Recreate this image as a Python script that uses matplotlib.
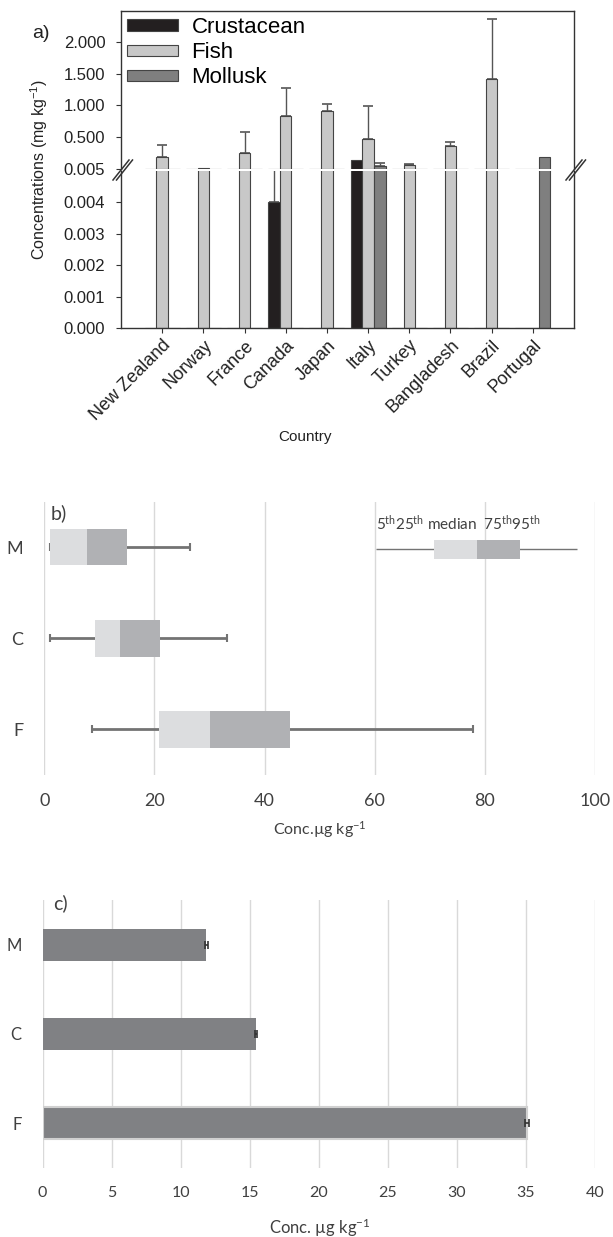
import matplotlib
matplotlib.use('Agg')
import matplotlib.pyplot as plt
import numpy as np
from matplotlib.lines import Line2D
from matplotlib.patches import Patch

W, H = 613, 1237
plt.rcParams['mathtext.default'] = 'regular'

nan = np.nan
# ---------------- data: panel a ----------------
countries = ['New Zealand', 'Norway', 'France', 'Canada', 'Japan', 'Italy',
             'Turkey', 'Bangladesh', 'Brazil', 'Portugal']
crustacean = [nan, nan, nan, 0.004, nan, 0.145, nan, nan, nan, nan]
crustacean_err = [0, 0, 0, 0.0011, 0, 0, 0, 0, 0, 0]
fish = [0.19, 0.015, 0.255, 0.83, 0.91, 0.47, 0.07, 0.36, 1.42, nan]
fish_err = [0.19, 0, 0.325, 0.45, 0.11, 0.515, 0.01, 0.065, 0.94, 0]
mollusk = [nan, nan, nan, nan, nan, 0.05, nan, nan, nan, 0.19]
mollusk_err = [0, 0, 0, 0, 0, 0.045, 0, 0, 0, 0]
lower_ticks = [0.0, 0.001, 0.002, 0.003, 0.004]
upper_ticks = [0.005, 0.5, 1.0, 1.5, 2.0]

# ---------------- data: panel b ----------------
groups = ['F', 'C', 'M']
p5 = [8.7, 1.0, 0.99]
q1 = [20.8, 9.3, 1.06]
median = [30.1, 13.7, 7.73]
q3 = [44.6, 21.1, 15.1]
p95 = [77.9, 33.2, 26.5]
legend_stats = [60.2, 70.7, 78.5, 86.4, 96.7]

# ---------------- data: panel c ----------------
means = [35.08, 15.46, 11.87]
mean_err = [0.12, 0.1, 0.1]


def px_box(l, t, r, b):
    return [l / W, 1 - b / H, (r - l) / W, (b - t) / H]


fig = plt.figure(figsize=(W / 100, H / 100), dpi=100)

# ================= panel a =================
fa = 'Liberation Sans'
tc = '#222222'
sc = '#333333'
ax_up = fig.add_axes(px_box(121, 11, 574, 169))
ax_lo = fig.add_axes(px_box(121, 171, 574, 328))
x = np.arange(len(countries))
bw = 0.28
off = 0.285
series = [(crustacean, crustacean_err, -off, '#231f20', 'Crustacean'),
          (fish, fish_err, 0.0, '#c8c8c8', 'Fish'),
          (mollusk, mollusk_err, off, '#7f7f7f', 'Mollusk')]
for ax in (ax_up, ax_lo):
    for vals, errs, o, col, lab in series:
        v = np.array(vals, dtype=float)
        e = np.array(errs, dtype=float)
        ax.bar(x + o, np.nan_to_num(v), width=bw, color=col, edgecolor='#444444',
               linewidth=0.8, zorder=2, label=lab)
        m = (e > 0) & ~np.isnan(v)
        if ax is ax_up:
            m = m & (v > 0.005)
        if m.any():
            ax.errorbar(x[m] + o, v[m], yerr=[np.zeros(m.sum()), e[m]], fmt='none',
                        ecolor='#555555', elinewidth=1, capsize=3.6, capthick=1.2,
                        zorder=1)
    ax.set_xlim(-1, len(countries))
    for s in ax.spines.values():
        s.set_color(sc)
        s.set_linewidth(1)
    ax.tick_params(axis='y', direction='out', length=3.3, width=0.8, color=sc,
                   pad=8, labelsize=12, labelcolor=tc)
    for lab in ax.get_yticklabels():
        lab.set_fontfamily(fa)

ax_up.set_ylim(0.005, 2.48)
ax_up.set_yticks(upper_ticks)
ax_up.set_yticklabels(['%.3f' % t for t in upper_ticks], fontfamily=fa)
ax_up.spines['bottom'].set_visible(False)
ax_up.tick_params(axis='x', bottom=False, labelbottom=False)

ax_lo.set_ylim(0, 0.005)
ax_lo.set_yticks(lower_ticks)
ax_lo.set_yticklabels(['%.3f' % t for t in lower_ticks], fontfamily=fa)
ax_lo.spines['top'].set_visible(False)
ax_lo.set_xticks(x)
ax_lo.set_xticklabels(countries, rotation=45, ha='right', rotation_mode='anchor',
                      fontfamily=fa, fontsize=13, color=tc)
ax_lo.tick_params(axis='x', direction='out', length=3.4, width=0.8, color=sc, pad=3)

handles = [Patch(facecolor=c, edgecolor='#444444', linewidth=0.8, label=l)
           for _, _, _, c, l in series]
ax_up.legend(handles=handles, loc='upper left',
             bbox_to_anchor=((127 - 121) / 453, 1 - 6 / 158),
             frameon=False, borderpad=0, borderaxespad=0, handlelength=2.3,
             handleheight=0.42, handletextpad=0.6, labelspacing=0.19,
             prop={'family': fa, 'size': 16})

# break marks
for x0 in (113, 566):
    for dx in (0, 3.5):
        fig.add_artist(Line2D([(x0 + dx) / W, (x0 + dx + 16) / W],
                              [1 - 180 / H, 1 - 160 / H], color=sc, lw=1.1))

fig.text(32 / W, 1 - 33 / H, 'a)', fontsize=14, fontfamily=fa, color=tc,
         va='center', ha='left')
fig.text(39 / W, 1 - 170 / H, 'Concentrations (mg kg$^{-1}$)', rotation=90,
         fontsize=11.5, fontfamily=fa, color=tc, va='center', ha='center')
fig.text(305 / W, 1 - 437 / H, 'Country', fontsize=11, fontfamily=fa, color=tc,
         va='center', ha='center')

# ================= panel b =================
fb = 'Lato'
tcb = '#404040'
grid_c = '#d9d9d9'
light = '#dcdddf'
dark = '#b0b1b4'
wc = '#737373'
ax_b = fig.add_axes(px_box(44.2, 501.7, 595, 775))
yb = np.arange(len(groups))
ax_b.errorbar(median, yb,
              xerr=[np.array(median) - np.array(p5), np.array(p95) - np.array(median)],
              fmt='none', ecolor=wc, elinewidth=2, capsize=3, capthick=1.5, zorder=2)
ax_b.barh(yb, np.array(median) - np.array(q1), left=q1, height=0.4,
          color=light, zorder=3)
ax_b.barh(yb, np.array(q3) - np.array(median), left=median, height=0.4,
          color=dark, zorder=3)
ly = 1.98
ax_b.hlines(ly, legend_stats[0], legend_stats[4], color=wc, lw=1, zorder=2)
ax_b.barh([ly], [legend_stats[2] - legend_stats[1]], left=[legend_stats[1]],
          height=0.21, color=light, zorder=3)
ax_b.barh([ly], [legend_stats[3] - legend_stats[2]], left=[legend_stats[2]],
          height=0.21, color=dark, zorder=3)
ax_b.text(legend_stats[0], 2.27, '5$^{th}$25$^{th}$ median  75$^{th}$95$^{th}$',
          fontfamily=fb, fontsize=11, color=tcb, ha='left', va='center')
ax_b.set_xlim(0, 100)
ax_b.set_ylim(-0.5, 2.5)
ax_b.set_xticks(range(0, 101, 20))
ax_b.set_yticks(yb)
ax_b.set_yticklabels(groups)
ax_b.xaxis.grid(True, color=grid_c, lw=1)
ax_b.set_axisbelow(True)
for s in ax_b.spines.values():
    s.set_visible(False)
ax_b.tick_params(axis='x', length=0, pad=13, labelsize=13, labelcolor=tcb)
ax_b.tick_params(axis='y', length=0, pad=15, labelsize=13, labelcolor=tcb)
for lab in ax_b.get_xticklabels() + ax_b.get_yticklabels():
    lab.set_fontfamily(fb)
fig.text(51 / W, 1 - 513 / H, 'b)', fontsize=14, fontfamily=fb, color=tcb,
         va='center', ha='left')
fig.text(320 / W, 1 - 830 / H, 'Conc.µg kg$^{-1}$', fontsize=11.5, fontfamily=fb,
         color=tcb, va='center', ha='center')

# ================= panel c =================
ax_c = fig.add_axes(px_box(42.5, 900, 595, 1168))
yc = np.arange(len(groups))
edges = ['#d0d0d0', 'none', 'none']
ax_c.barh(yc, means, height=0.355, color='#808184', edgecolor=edges,
          linewidth=1.5, zorder=2)
ax_c.errorbar(means, yc, xerr=mean_err, fmt='none', ecolor='#333333',
              elinewidth=1.2, capsize=3, capthick=1.2, zorder=3)
ax_c.set_xlim(0, 40)
ax_c.set_ylim(-0.5, 2.5)
ax_c.set_xticks(range(0, 41, 5))
ax_c.set_yticks(yc)
ax_c.set_yticklabels(groups)
ax_c.xaxis.grid(True, color=grid_c, lw=1)
ax_c.set_axisbelow(True)
for s in ax_c.spines.values():
    s.set_visible(False)
ax_c.tick_params(axis='x', length=0, pad=13, labelsize=11.5, labelcolor=tcb)
ax_c.tick_params(axis='y', length=0, pad=15, labelsize=12, labelcolor=tcb)
for lab in ax_c.get_xticklabels() + ax_c.get_yticklabels():
    lab.set_fontfamily(fb)
fig.text(53 / W, 1 - 903 / H, 'c)', fontsize=14, fontfamily=fb, color=tcb,
         va='center', ha='left')
fig.text(320 / W, 1 - 1228 / H, 'Conc. µg kg$^{-1}$', fontsize=12, fontfamily=fb,
         color=tcb, va='center', ha='center')

fig.savefig('out.png', dpi=100)
